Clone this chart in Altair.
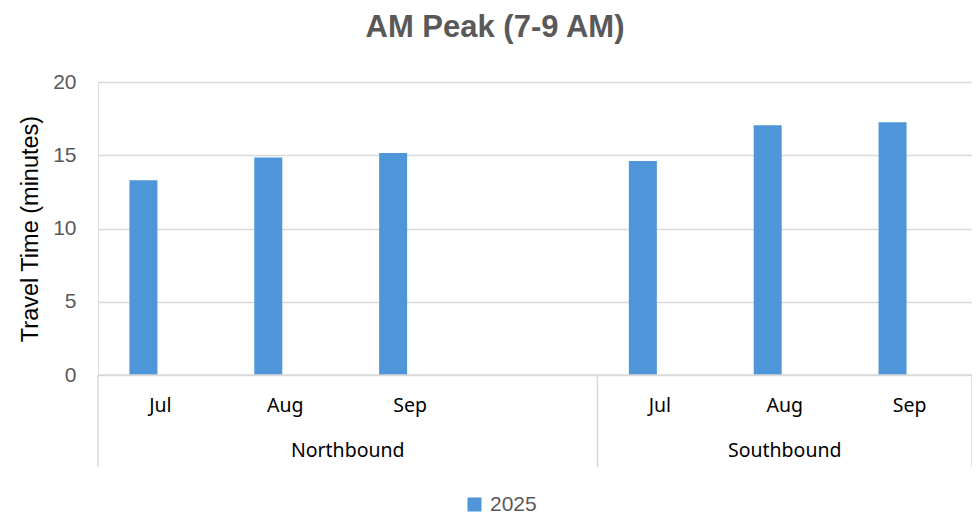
import altair as alt
import pandas as pd

# Category slots along the x axis (a blank slot separates the two directions)
slot_month = ["Jul", "Aug", "Sep", "", "Jul", "Aug", "Sep"]
slot_group = ["Northbound", "Northbound", "Northbound", "Northbound",
              "Southbound", "Southbound", "Southbound"]
slot_value = [13.3, 14.85, 15.15, None, 14.6, 17.05, 17.25]
series_name = "2025"

group_names = ["Northbound", "Southbound"]

BAR = "#4e95d9"
GRID = "#d9d9d9"
GRAY = "#595959"
FONT = "Liberation Sans"
CAT_FONT = "Noto Sans"

W, H = 874, 293

slots = pd.DataFrame({
    "idx": list(range(len(slot_month))),
    "month": slot_month,
    "group": slot_group,
    "value": slot_value,
})
slots["pos"] = slots["idx"] + 0.5
slots["series"] = series_name
bars_df = slots.dropna(subset=["value"])

# group extents derived from the slot list
g_rows = []
for g in group_names:
    ids = [i for i, s in enumerate(slot_group) if s == g]
    g_rows.append({"group": g, "start": min(ids), "end": max(ids) + 1})
groups = pd.DataFrame(g_rows)
groups["mid"] = (groups["start"] + groups["end"]) / 2
seps = pd.DataFrame({"edge": sorted(set(groups["start"]) | set(groups["end"]))})

xscale = alt.Scale(domain=[0, len(slot_month)], nice=False, zero=False, padding=0)

bars = alt.Chart(bars_df).mark_bar(width=28, xOffset=-17).encode(
    x=alt.X("pos:Q", scale=xscale, axis=None),
    y=alt.Y("value:Q", scale=alt.Scale(domain=[0, 20]),
            axis=alt.Axis(values=[0, 5, 10, 15, 20], title="Travel Time (minutes)",
                          grid=True, gridColor=GRID, gridWidth=1.5,
                          domain=False, ticks=False, labelPadding=22,
                          labelFontSize=21, labelColor=GRAY, labelFont=FONT,
                          titleFontSize=23.5, titleFont=FONT, titleColor="#000000",
                          titleFontWeight="normal", titlePadding=10)),
    color=alt.Color("series:N", scale=alt.Scale(range=[BAR]),
                    legend=alt.Legend(title=None, orient="none", legendX=366, legendY=412,
                                      symbolType="square", symbolSize=196,
                                      symbolStrokeWidth=0,
                                      labelFontSize=21, labelColor=GRAY, labelFont=FONT,
                                      labelOffset=5)),
)

base_line = alt.Chart(pd.DataFrame({"a": [0], "b": [len(slot_month)]})).mark_rule(
    color=GRID, strokeWidth=1.5).encode(
    x=alt.X("a:Q", scale=xscale), x2="b:Q", y=alt.value(H))

sep_rules = alt.Chart(seps).mark_rule(color=GRID, strokeWidth=1.5).encode(
    x=alt.X("edge:Q", scale=xscale), y=alt.value(H), y2=alt.value(H + 92))

month_text = alt.Chart(slots).mark_text(
    fontSize=19.5, font=CAT_FONT, color="#000000", baseline="middle").encode(
    x=alt.X("pos:Q", scale=xscale), y=alt.value(H + 31), text="month:N")

group_text = alt.Chart(groups).mark_text(
    fontSize=19.5, font=CAT_FONT, color="#000000", baseline="middle").encode(
    x=alt.X("mid:Q", scale=xscale), y=alt.value(H + 76), text="group:N")

chart = alt.layer(bars, base_line, sep_rules, month_text, group_text).properties(
    width=W, height=H,
    title=alt.Title("AM Peak (7-9 AM)", fontSize=31, font=FONT, fontWeight="bold",
                    color=GRAY, anchor="middle", dx=-40, offset=27),
    autosize=alt.AutoSizeParams(type="none"),
    padding={"left": 90, "top": 74, "right": 0, "bottom": 140},
).configure_view(stroke=None).configure(background="white")

chart.save("out.html", embed_options={"renderer": "svg", "actions": False})
